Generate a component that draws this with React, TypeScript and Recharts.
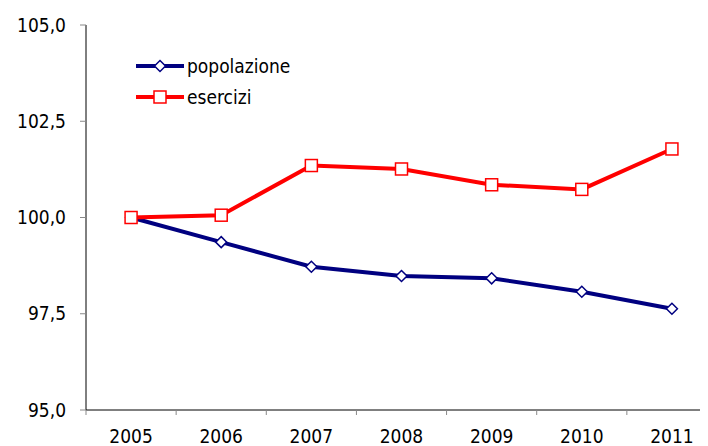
import React from 'react';
import { LineChart, Line, XAxis, YAxis, Legend } from 'recharts';

const years = [2005, 2006, 2007, 2008, 2009, 2010, 2011];
const popolazione = [100.0, 99.36, 98.72, 98.48, 98.42, 98.07, 97.63];
const esercizi = [100.0, 100.06, 101.35, 101.26, 100.85, 100.73, 101.78];
const yTicks = [95, 97.5, 100, 102.5, 105];
// tick marks sit between the years
const boundaryTicks = [2004.5, 2005.5, 2006.5, 2007.5, 2008.5, 2009.5, 2010.5];

const data = years.map((year, i) => ({
  year,
  popolazione: popolazione[i],
  esercizi: esercizi[i],
}));

const NAVY = '#000080';
const RED = '#ff0000';
const FONT = '"DejaVu Sans Condensed", "DejaVu Sans", sans-serif';
const X_TICK_SIZE = 5;
const X_TICK_MARGIN = 15;

const Diamond = (props: any) => {
  const { cx, cy, index } = props;
  if (cx == null || cy == null) return null;
  const r = 5.5;
  return (
    <path
      key={`d-${index}`}
      d={`M${cx},${cy - r}L${cx + r},${cy}L${cx},${cy + r}L${cx - r},${cy}Z`}
      fill="#fff"
      stroke={NAVY}
      strokeWidth={1.5}
    />
  );
};

const Square = (props: any) => {
  const { cx, cy, index } = props;
  if (cx == null || cy == null) return null;
  const s = 12;
  return (
    <rect
      key={`s-${index}`}
      x={cx - s / 2}
      y={cy - s / 2}
      width={s}
      height={s}
      fill="#fff"
      stroke={RED}
      strokeWidth={1.5}
    />
  );
};

// year labels under the categories, small grey marks on the boundaries
const XTick = (props: any) => {
  const { x, y, payload } = props;
  const v = payload.value;
  if (Number.isInteger(v)) {
    return (
      <text x={x} y={y} dy="0.71em" textAnchor="middle" fill="#000" fontSize={19} fontFamily={FONT}>
        {v}
      </text>
    );
  }
  const top = y - X_TICK_SIZE - X_TICK_MARGIN;
  return <line x1={x} y1={top} x2={x} y2={top + X_TICK_SIZE} stroke="#888" />;
};

const legendItems = [
  { name: 'popolazione', color: NAVY, marker: 'diamond' },
  { name: 'esercizi', color: RED, marker: 'square' },
];

const CustomLegend = () => (
  <div style={{ fontFamily: FONT, fontSize: 19, color: '#000' }}>
    {legendItems.map(item => (
      <div key={item.name} style={{ display: 'flex', alignItems: 'center', height: 31 }}>
        <svg width={50} height={16} style={{ marginRight: 1 }}>
          <line x1={0} y1={8} x2={48} y2={8} stroke={item.color} strokeWidth={4} />
          {item.marker === 'diamond' ? (
            <path d="M24,2.5L29.5,8L24,13.5L18.5,8Z" fill="#fff" stroke={item.color} strokeWidth={1.5} />
          ) : (
            <rect x={18} y={2} width={12} height={12} fill="#fff" stroke={item.color} strokeWidth={1.5} />
          )}
        </svg>
        <span>{item.name}</span>
      </div>
    ))}
  </div>
);

export default function App() {
  return (
    <div style={{ width: 700, height: 438, fontFamily: FONT, background: '#fff' }}>
      <LineChart
        width={700}
        height={438}
        data={data}
        margin={{ top: 17, right: -9, bottom: 0, left: 0 }}
      >
        <XAxis
          dataKey="year"
          type="number"
          domain={[2004.5, 2011.5]}
          ticks={[...boundaryTicks, ...years]}
          interval={0}
          height={36}
          axisLine={{ stroke: '#000', strokeWidth: 1 }}
          tickLine={false}
          tickSize={X_TICK_SIZE}
          tickMargin={X_TICK_MARGIN}
          tick={<XTick />}
        />
        <YAxis
          domain={[95, 105]}
          ticks={yTicks}
          width={78}
          axisLine={{ stroke: '#000', strokeWidth: 1 }}
          tickLine={{ stroke: '#888' }}
          tickSize={6}
          tickMargin={14}
          tick={{ fill: '#000', fontSize: 19, fontFamily: FONT }}
          tickFormatter={(v: number) => v.toFixed(1).replace('.', ',')}
        />
        <Legend
          layout="vertical"
          align="center"
          verticalAlign="middle"
          wrapperStyle={{ top: 42, left: 128, width: 'auto' }}
          content={<CustomLegend />}
        />
        <Line
          dataKey="popolazione"
          stroke={NAVY}
          strokeWidth={4}
          dot={Diamond}
          activeDot={false}
          isAnimationActive={false}
        />
        <Line
          dataKey="esercizi"
          stroke={RED}
          strokeWidth={4}
          dot={Square}
          activeDot={false}
          isAnimationActive={false}
        />
      </LineChart>
    </div>
  );
}
